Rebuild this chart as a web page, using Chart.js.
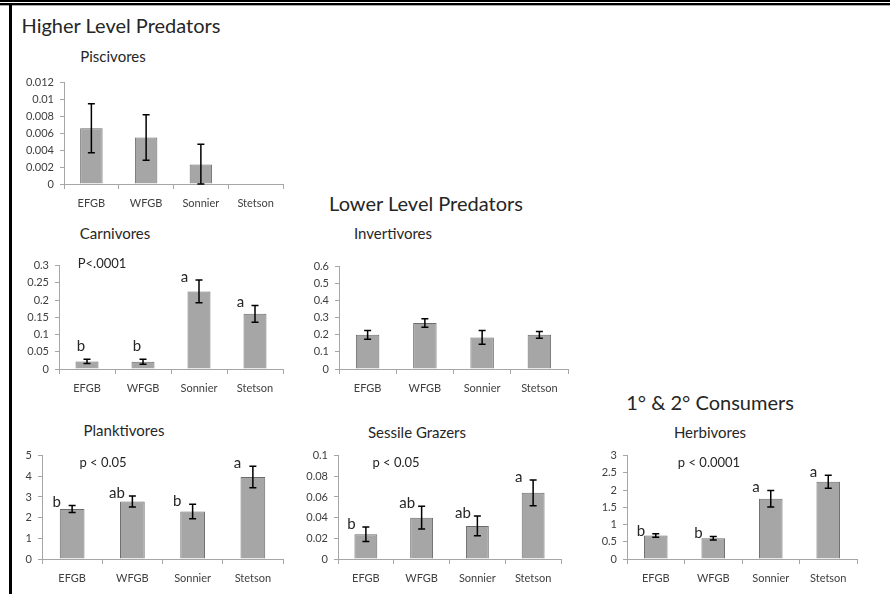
<!DOCTYPE html>
<html>
<head>
<meta charset="utf-8">
<script src="https://cdn.jsdelivr.net/npm/chart.js@4.4.1/dist/chart.umd.min.js"></script>
<style>
  body { margin: 0; background: #fff; }
  #page { position: relative; width: 890px; height: 594px; background: #fff; overflow: hidden; font-family: Lato, "Open Sans", sans-serif; color: #262626; }
  canvas { position: absolute; }
  .txt { position: absolute; white-space: nowrap; transform: translate(-50%, -50%); }
  .ln { position: absolute; background: #000; }
</style>
</head>
<body>
<div id="page">
  <div class="ln" style="left:0;top:0;width:890px;height:2px"></div>
  <div class="ln" style="left:0;top:3px;width:890px;height:2px"></div>
  <div class="ln" style="left:0;top:5px;width:890px;height:1px;background:#aaa"></div>
  <div class="ln" style="left:9px;top:4px;width:3px;height:590px"></div>
</div>
<script>
// sites sur l'axe des x
const sites = ['EFGB', 'WFGB', 'Sonnier', 'Stetson'];

// valeurs (moyenne, erreur)
const piscivores = [0.0066, 0.0055, 0.0023, 0];
const piscivoresErr = [0.0029, 0.0027, 0.0024, 0];
const carnivores = [0.022, 0.021, 0.225, 0.16];
const carnivoresErr = [0.006, 0.007, 0.033, 0.024];
const invertivores = [0.2, 0.27, 0.185, 0.2];
const invertivoresErr = [0.025, 0.025, 0.04, 0.02];
const planktivores = [2.42, 2.78, 2.3, 3.97];
const planktivoresErr = [0.17, 0.27, 0.35, 0.52];
const sessile = [0.024, 0.04, 0.032, 0.064];
const sessileErr = [0.007, 0.011, 0.0095, 0.0125];
const herbivores = [0.68, 0.6, 1.75, 2.24];
const herbivoresErr = [0.05, 0.05, 0.24, 0.19];

// lettres de significativité
const carnLettres = ['b', 'b', 'a', 'a'];
const invLettres = ['', '', '', ''];
const piscLettres = ['', '', '', ''];
const plankLettres = ['b', 'ab', 'b', 'a'];
const sessLettres = ['b', 'ab', 'ab', 'a'];
const herbLettres = ['b', 'b', 'a', 'a'];

// échelles y : max et pas
const yMax = [0.012, 0.3, 0.6, 5, 0.1, 3];
const yStep = [0.002, 0.05, 0.1, 1, 0.02, 0.5];

const page = document.getElementById('page');
const POLICE = 'Lato, "Open Sans", sans-serif';
const AXE = '#a6a6a6';

function texte(t, cx, cy, taille) {
    let d = document.createElement('div');
    d.className = 'txt';
    d.style.left = cx + 'px';
    d.style.top = cy + 'px';
    d.style.fontSize = taille + 'px';
    d.textContent = t;
    page.appendChild(d);
}

// barres d'erreur + lettres
const pluginErreurs = {
    id: 'erreurs',
    afterDatasetsDraw(chart, args, opts) {
        const ctx = chart.ctx;
        const y = chart.scales.y;
        const meta = chart.getDatasetMeta(0);
        ctx.save();
        meta.data.forEach((bar, i) => {
            const v = opts.valeurs[i], e = opts.erreurs[i];
            let haut = y.getPixelForValue(v + e);
            if (e > 0) {
                let bas = y.getPixelForValue(Math.max(v - e, 0));
                ctx.strokeStyle = '#000';
                ctx.lineWidth = 1.5;
                ctx.beginPath();
                ctx.moveTo(bar.x, haut); ctx.lineTo(bar.x, bas);
                ctx.moveTo(bar.x - 3.5, haut); ctx.lineTo(bar.x + 3.5, haut);
                ctx.moveTo(bar.x - 3.5, bas); ctx.lineTo(bar.x + 3.5, bas);
                ctx.stroke();
            }
            const l = opts.lettres[i];
            if (l) {
                ctx.fillStyle = '#262626';
                ctx.font = '15px ' + POLICE;
                ctx.textAlign = 'center';
                ctx.textBaseline = 'middle';
                let ly = haut - 3;
                let lx = bar.x - bar.width / 2 - 3;
                // petites barres : la lettre passe au-dessus
                if (ly > y.bottom - 24) { ly = y.bottom - 23; lx = bar.x - 6; }
                ctx.fillText(l, lx, ly);
            }
        });
        ctx.restore();
    }
};

const LARG_Y = 40, HAUT_X = 34, PAD_HAUT = 10, PAD_DROITE = 4;

function dessinerPanneau(id, axeX, yHaut, yZero, xDroite, valeurs, erreurs, lettres, k) {
    const c = document.createElement('canvas');
    c.id = id;
    const w = (xDroite - axeX) + LARG_Y + PAD_DROITE;
    const h = (yZero - yHaut) + PAD_HAUT + HAUT_X;
    c.style.left = (axeX - LARG_Y) + 'px';
    c.style.top = (yHaut - PAD_HAUT) + 'px';
    c.style.width = w + 'px';
    c.style.height = h + 'px';
    c.width = w; c.height = h;
    page.appendChild(c);

    new Chart(c, {
        type: 'bar',
        data: {
            labels: sites,
            datasets: [{
                data: valeurs,
                backgroundColor: '#a6a6a6',
                borderColor: '#6b6b6b',
                borderWidth: 1,
                categoryPercentage: 1,
                barPercentage: 0.41
            }]
        },
        options: {
            responsive: false,
            animation: false,
            layout: { autoPadding: false, padding: { top: PAD_HAUT, left: 0, right: PAD_DROITE, bottom: 0 } },
            plugins: {
                legend: { display: false },
                tooltip: { enabled: false },
                erreurs: { valeurs: valeurs, erreurs: erreurs, lettres: lettres }
            },
            scales: {
                x: {
                    grid: { offset: true, drawOnChartArea: false, drawTicks: true, tickLength: 5, color: AXE },
                    border: { display: true, color: AXE, width: 1 },
                    ticks: { font: { family: POLICE, size: 11 }, color: '#404040', padding: 8, maxRotation: 0 },
                    afterFit(s) { s.height = HAUT_X; }
                },
                y: {
                    min: 0, max: yMax[k],
                    grid: { drawOnChartArea: false, drawTicks: true, tickLength: 4, color: AXE },
                    border: { display: true, color: AXE, width: 1 },
                    ticks: {
                        stepSize: yStep[k], font: { family: POLICE, size: 11 }, color: '#404040', padding: 6,
                        callback: v => String(parseFloat(v.toFixed(6)))
                    },
                    afterFit(s) { s.width = LARG_Y; }
                }
            }
        },
        plugins: [pluginErreurs]
    });
}

dessinerPanneau('piscivores', 64, 80, 184, 283, piscivores, piscivoresErr, piscLettres, 0);
dessinerPanneau('carnivores', 59, 263, 369, 283, carnivores, carnivoresErr, carnLettres, 1);
dessinerPanneau('invertivores', 339, 264, 369, 568, invertivores, invertivoresErr, invLettres, 2);
dessinerPanneau('planktivores', 42, 453, 559, 283, planktivores, planktivoresErr, plankLettres, 3);
dessinerPanneau('sessile', 338, 453, 559, 561, sessile, sessileErr, sessLettres, 4);
dessinerPanneau('herbivores', 627, 453, 559, 857, herbivores, herbivoresErr, herbLettres, 5);

// titres de sections
texte('Higher Level Predators', 121, 25, 20);
texte('Lower Level Predators', 426, 203, 20);
texte('1° & 2° Consumers', 710, 402, 20);

// titres des panneaux
texte('Piscivores', 113, 56, 15);
texte('Carnivores', 115, 233, 15);
texte('Invertivores', 393, 233, 15);
texte('Planktivores', 124, 430, 15);
texte('Sessile Grazers', 417, 432, 15);
texte('Herbivores', 710, 432, 15);

// valeurs p
texte('P<.0001', 102, 263, 13);
texte('p < 0.05', 103, 462, 13);
texte('p < 0.05', 396, 462, 13);
texte('p < 0.0001', 709, 462, 13);
</script>
</body>
</html>
